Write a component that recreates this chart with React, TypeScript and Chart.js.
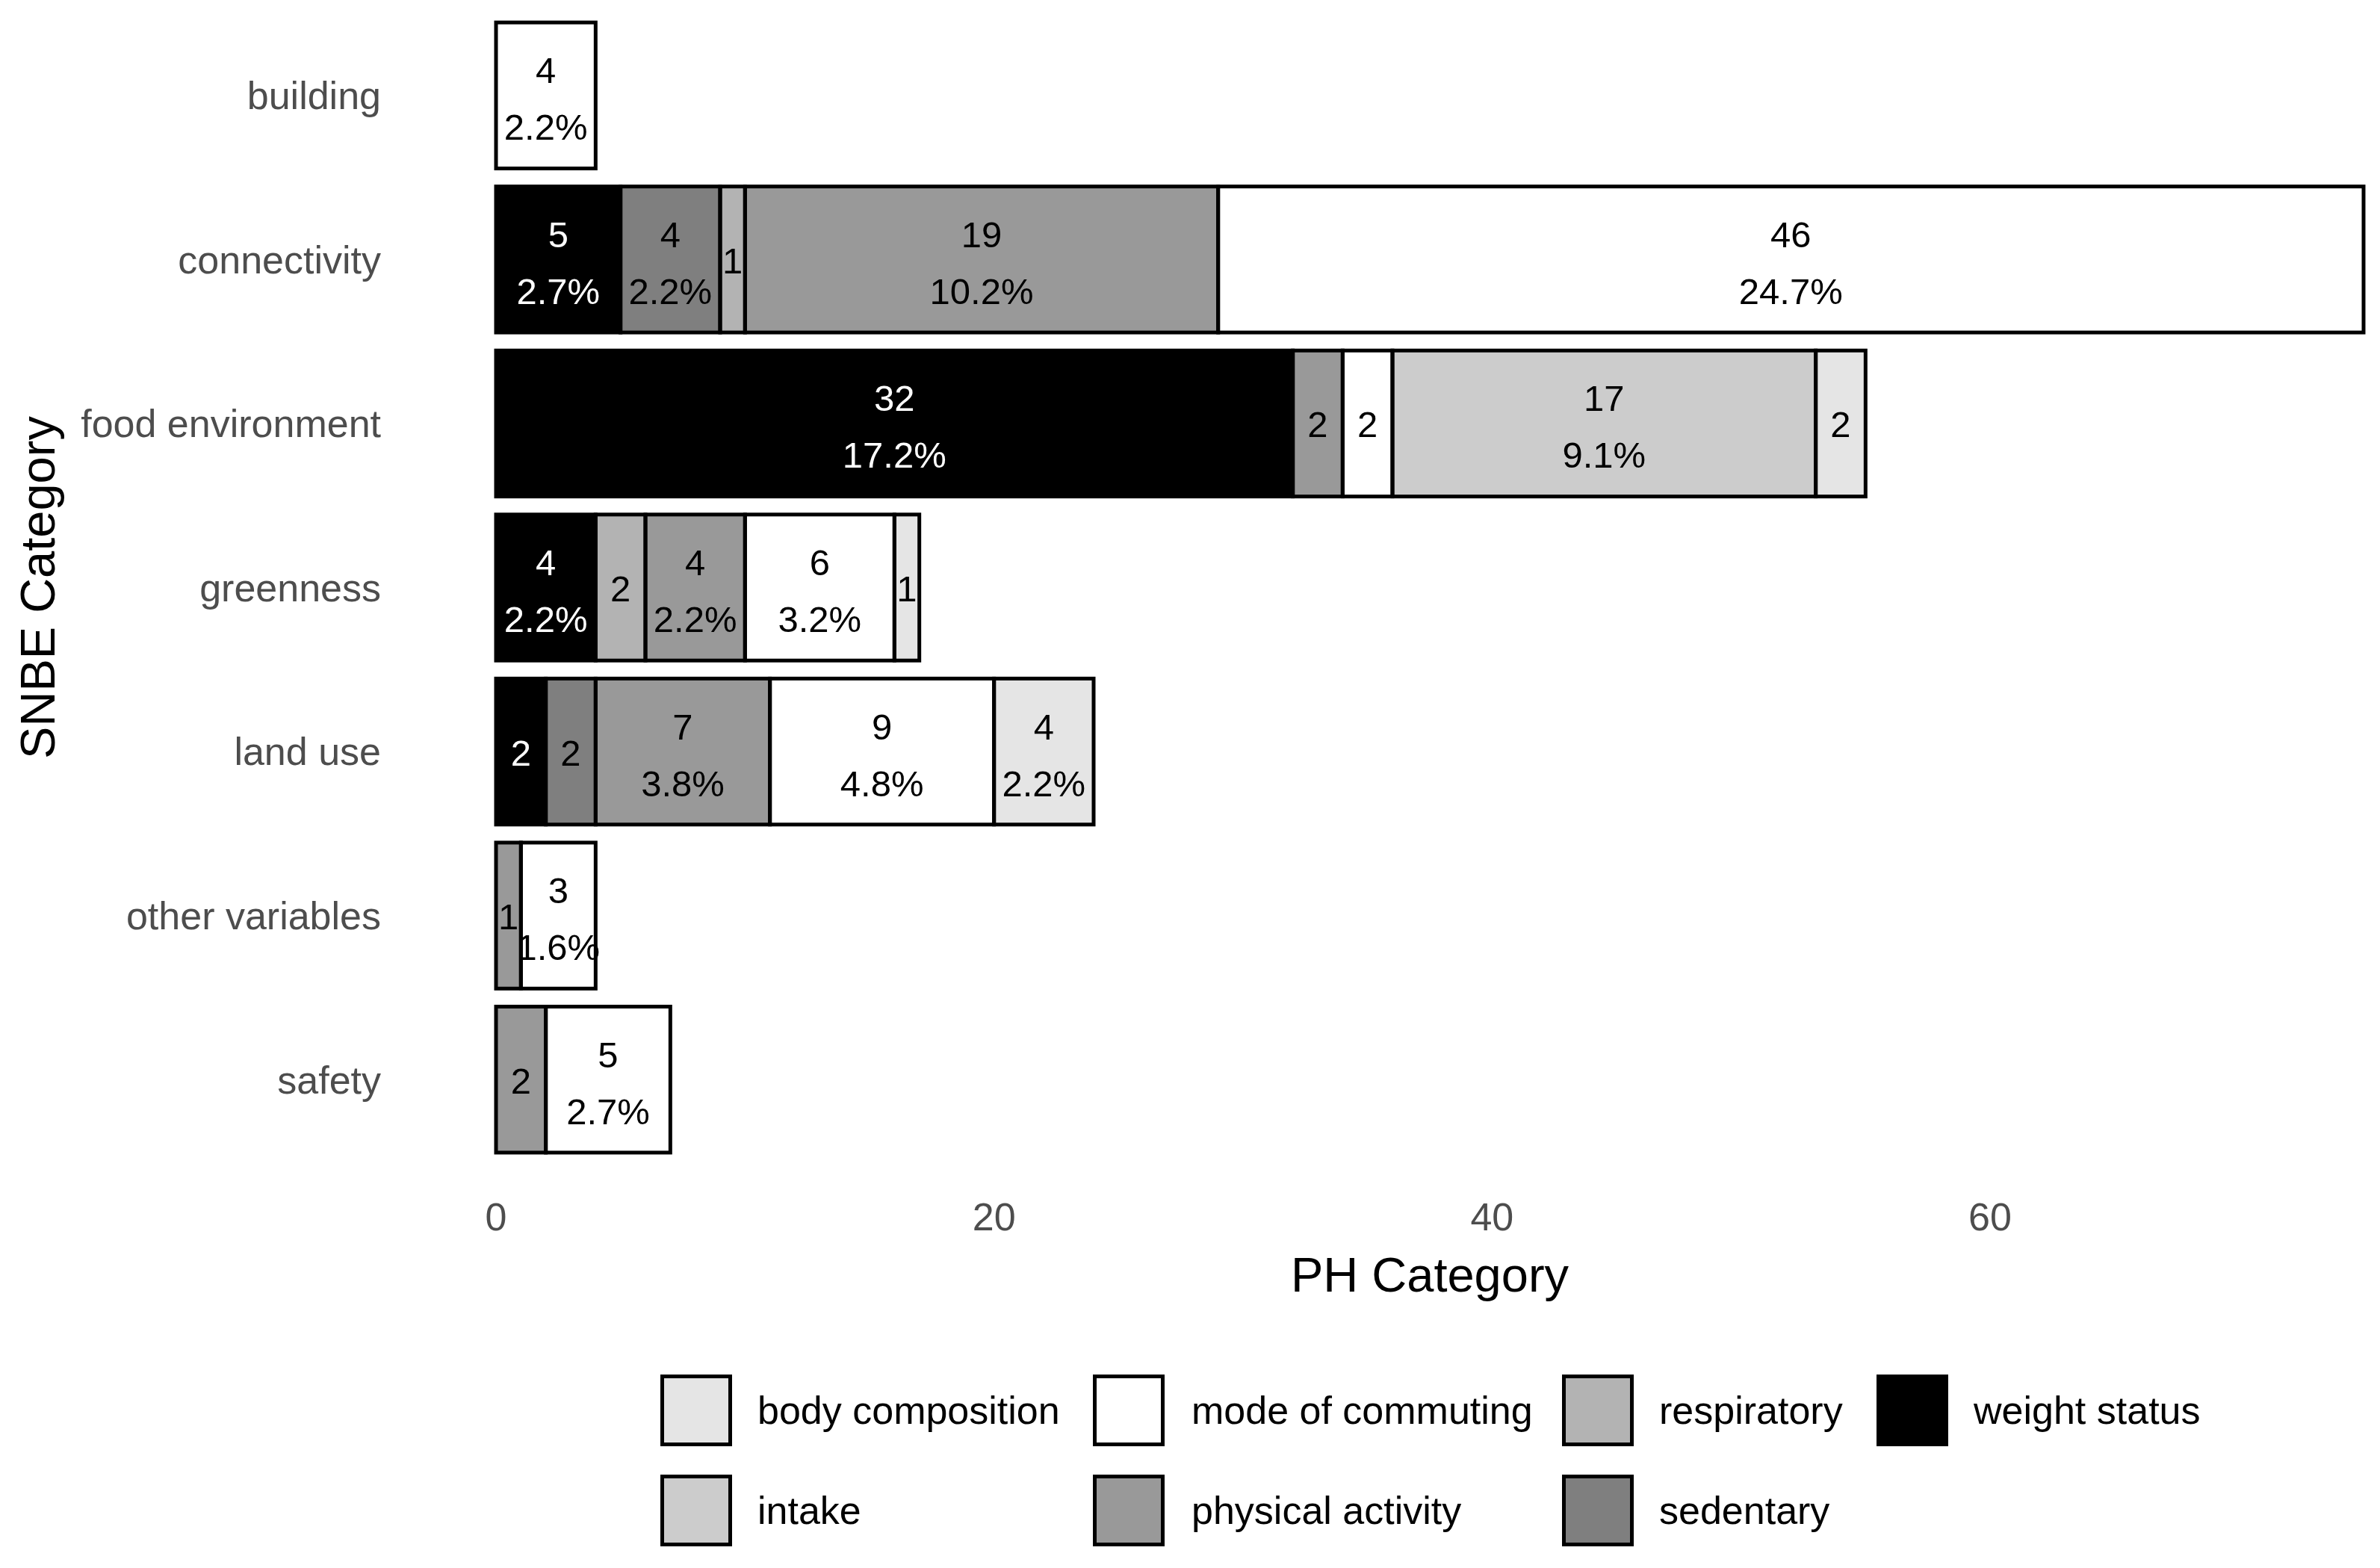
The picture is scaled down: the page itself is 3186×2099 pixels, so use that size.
import React, { useEffect, useRef } from "react";
import Chart from "chart.js/auto";

// ---------- data ----------
const categories = [
  "building",
  "connectivity",
  "food environment",
  "greenness",
  "land use",
  "other variables",
  "safety",
];

const weightStatus = [0, 5, 32, 4, 2, 0, 0];
const sedentary = [0, 4, 0, 0, 2, 0, 0];
const respiratory = [0, 1, 0, 2, 0, 0, 0];
const physicalActivity = [0, 19, 2, 4, 7, 1, 2];
const modeOfCommuting = [4, 46, 2, 6, 9, 3, 5];
const intake = [0, 0, 17, 0, 0, 0, 0];
const bodyComposition = [0, 0, 2, 1, 4, 0, 0];

const seriesNames = [
  "weight status",
  "sedentary",
  "respiratory",
  "physical activity",
  "mode of commuting",
  "intake",
  "body composition",
];
const seriesValues = [
  weightStatus,
  sedentary,
  respiratory,
  physicalActivity,
  modeOfCommuting,
  intake,
  bodyComposition,
];
const seriesColors = ["#000000", "#7f7f7f", "#b3b3b3", "#999999", "#ffffff", "#cccccc", "#e5e5e5"];
const labelColors = ["#ffffff", "#000000", "#000000", "#000000", "#000000", "#000000", "#000000"];

const xTicks = [0, 20, 40, 60];

const legendRow1 = ["body composition", "mode of commuting", "respiratory", "weight status"];
const legendRow2 = ["intake", "physical activity", "sedentary"];

const xTitle = "PH Category";
const yTitle = "SNBE Category";

// ---------- layout ----------
const W = 3186;
const H = 2099;
const CANVAS_W = 3289; // panel extends past the visible (cropped) right edge
const FONT = "'Liberation Sans', Arial, Helvetica, sans-serif";

const legendBoxLeft = [884, 1463, 2091, 2512];
const legendTextLeft = [1014, 1595, 2221, 2642];
const legendRowCenter = [1888, 2022];

const total = seriesValues.reduce((s, arr) => s + arr.reduce((a, b) => a + b, 0), 0);

const barDecor = {
  id: "barDecor",
  afterDatasetsDraw(chart: any) {
    const ctx = chart.ctx;
    ctx.save();
    ctx.lineWidth = 5;
    ctx.strokeStyle = "#000000";
    const items: any[] = [];
    chart.data.datasets.forEach((ds: any, di: number) => {
      const meta = chart.getDatasetMeta(di);
      meta.data.forEach((el: any, i: number) => {
        const v = ds.data[i];
        if (!v) return;
        const p = el.getProps(["x", "y", "base", "height"], true);
        const left = Math.min(p.x, p.base);
        const w = Math.abs(p.x - p.base);
        ctx.strokeRect(left, p.y - p.height / 2, w, p.height);
        items.push({ cx: left + w / 2, cy: p.y, v, color: labelColors[di] });
      });
    });
    ctx.font = `49px ${FONT}`;
    ctx.textAlign = "center";
    ctx.textBaseline = "middle";
    items.forEach((it) => {
      ctx.fillStyle = it.color;
      if (it.v >= 3) {
        const pct = ((it.v / total) * 100).toFixed(1) + "%";
        ctx.fillText(String(it.v), it.cx, it.cy - 30);
        ctx.fillText(pct, it.cx, it.cy + 46);
      } else {
        ctx.fillText(String(it.v), it.cx, it.cy + 5);
      }
    });
    ctx.restore();
  },
};

export default function App() {
  const ref = useRef<HTMLCanvasElement | null>(null);

  useEffect(() => {
    document.body.style.margin = "0";
    const canvas = ref.current;
    if (!canvas) return;
    const chart = new Chart(canvas, {
      type: "bar",
      data: {
        labels: categories,
        datasets: seriesNames.map((name, i) => ({
          label: name,
          data: seriesValues[i],
          backgroundColor: seriesColors[i],
          borderWidth: 0,
          barPercentage: 0.89,
          categoryPercentage: 1,
        })),
      },
      options: {
        indexAxis: "y",
        responsive: false,
        animation: false,
        devicePixelRatio: 1,
        layout: { padding: { top: 18, left: 0, right: 0, bottom: 344 } },
        plugins: {
          legend: { display: false },
          tooltip: { enabled: false },
        },
        scales: {
          x: {
            type: "linear",
            stacked: true,
            min: -3.75,
            max: 78.75,
            grid: { display: false, drawTicks: false },
            border: { display: false },
            afterBuildTicks: (scale: any) => {
              scale.ticks = xTicks.map((v) => ({ value: v }));
            },
            afterFit: (scale: any) => {
              scale.height = 200;
              scale.paddingLeft = 0;
              scale.paddingRight = 0;
            },
            ticks: {
              color: "#4d4d4d",
              font: { family: FONT, size: 52 },
              padding: 46,
              maxRotation: 0,
              autoSkip: false,
            },
            title: {
              display: true,
              text: xTitle,
              color: "#000000",
              font: { family: FONT, size: 65 },
              padding: { top: 0, bottom: 5 },
            },
          },
          y: {
            type: "category",
            stacked: true,
            offset: true,
            grid: { display: false, drawTicks: false },
            border: { display: false },
            afterFit: (scale: any) => {
              scale.width = 539;
              scale.paddingTop = 0;
              scale.paddingBottom = 0;
            },
            ticks: {
              color: "#4d4d4d",
              font: { family: FONT, size: 52 },
              padding: 29,
              labelOffset: 4,
              autoSkip: false,
            },
            title: {
              display: true,
              text: yTitle,
              color: "#000000",
              font: { family: FONT, size: 65 },
              padding: { top: 16, bottom: 0 },
            },
          },
        },
      },
      plugins: [barDecor],
    } as any);
    return () => chart.destroy();
  }, []);

  const colorOf = (name: string) => seriesColors[seriesNames.indexOf(name)];

  const renderRow = (names: string[], row: number) =>
    names.map((name, c) => (
      <React.Fragment key={name}>
        <div
          style={{
            position: "absolute",
            left: legendBoxLeft[c],
            top: legendRowCenter[row] - 48,
            width: 96,
            height: 96,
            boxSizing: "border-box",
            border: "5px solid #000",
            background: colorOf(name),
          }}
        />
        <div
          style={{
            position: "absolute",
            left: legendTextLeft[c],
            top: legendRowCenter[row] - 40,
            height: 80,
            lineHeight: "80px",
            fontFamily: FONT,
            fontSize: 52,
            color: "#000",
            whiteSpace: "nowrap",
          }}
        >
          {name}
        </div>
      </React.Fragment>
    ));

  return (
    <div style={{ position: "relative", width: W, height: H, background: "#fff", overflow: "hidden" }}>
      <canvas
        ref={ref}
        width={CANVAS_W}
        height={H}
        style={{ display: "block", width: CANVAS_W, height: H }}
      />
      {renderRow(legendRow1, 0)}
      {renderRow(legendRow2, 1)}
    </div>
  );
}
